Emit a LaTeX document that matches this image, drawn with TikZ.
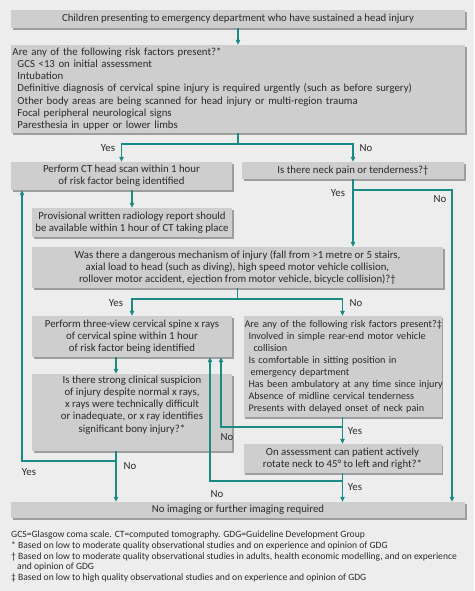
\documentclass[tikz,border=0pt]{standalone}
\usepackage{fontspec}
\setmainfont{Carlito}
\usetikzlibrary{arrows.meta,shadows}
\definecolor{bg}{HTML}{EDEDED}
\definecolor{boxfill}{HTML}{CECECE}
\definecolor{shade}{HTML}{9E9E9E}
\definecolor{tealc}{HTML}{1A8A85}
\definecolor{ink}{HTML}{2A2A2A}
\begin{document}
\begin{tikzpicture}[x=1pt,y=-1pt,
  box/.style={fill=boxfill, draw=none,
    drop shadow={shadow xshift=1.6pt,shadow yshift=-1.6pt,fill=shade,opacity=1},
    inner sep=0pt, text=ink, font=\fontsize{10.8}{12.2}\selectfont, align=center},
  conn/.style={draw=tealc, line width=1.1pt, -{Triangle[length=5pt,width=4.5pt]}},
  tline/.style={draw=tealc, line width=1.1pt},
  lab/.style={text=ink, font=\fontsize{10.8}{12}\selectfont, inner sep=0pt}]
\useasboundingbox (0,0) rectangle (474,591);
\fill[bg] (0,0) rectangle (474,591);

% boxes
\node[box, minimum width=454, minimum height=18] (start) at (238,19)
  {Children presenting to emergency department who have sustained a head injury};
\node[box, minimum width=454, minimum height=88, text width=451, align=left] (risk1) at (238,89)
  {\mbox{Are any of the following risk factors present?*}\\
   \mbox{\hspace*{5pt}GCS <13 on initial assessment}\\
   \mbox{\hspace*{5pt}Intubation}\\
   \mbox{\hspace*{5pt}Definitive diagnosis of cervical spine injury is required urgently (such as before surgery)}\\
   \mbox{\hspace*{5pt}Other body areas are being scanned for head injury or multi-region trauma}\\
   \mbox{\hspace*{5pt}Focal peripheral neurological signs}\\
   \mbox{\hspace*{5pt}Paresthesia in upper or lower limbs}};
\node[box, minimum width=221, minimum height=28] (ct) at (121.5,176)
  {Perform CT head scan within 1 hour\\of risk factor being identified};
\node[box, minimum width=222, minimum height=17] (neck) at (353,170.5)
  {Is there neck pain or tenderness?\textdagger};
\node[box, minimum width=200, minimum height=29] (prov) at (132,222.5)
  {Provisional written radiology report should\\be available within 1 hour of CT taking place};
\node[box, minimum width=411, minimum height=41] (dang) at (237.5,267.5)
  {Was there a dangerous mechanism of injury (fall from >1 metre or 5 stairs,\\
   axial load to head (such as diving), high speed motor vehicle collision,\\
   rollover motor accident, ejection from motor vehicle, bicycle collision)?\textdagger};
\node[box, minimum width=200, minimum height=41] (three) at (132,336.5)
  {Perform three-view cervical spine x rays\\of cervical spine within 1 hour\\of risk factor being identified};
\node[box, minimum width=198, minimum height=101, text width=196, align=left,
  font=\fontsize{10.2}{12}\selectfont] (risk2) at (342.5,366.5)
  {\mbox{Are any of the following risk factors present?\textdaggerdbl}\\
   \mbox{\hspace*{4pt}Involved in simple rear-end motor vehicle}\\
   \mbox{\hspace*{9pt}collision}\\
   \mbox{\hspace*{4pt}Is comfortable in sitting position in}\\
   \mbox{\hspace*{6pt}emergency department}\\
   \mbox{\hspace*{4pt}Has been ambulatory at any time since injury}\\
   \mbox{\hspace*{4pt}Absence of midline cervical tenderness}\\
   \mbox{\hspace*{4pt}Presents with delayed onset of neck pain}};
\node[box, minimum width=200, minimum height=77] (susp) at (132,412.5)
  {Is there strong clinical suspicion\\of injury despite normal x rays,\\x rays were technically difficult\\or inadequate, or x ray identifies\\significant bony injury?*\\[5pt]};
\node[box, minimum width=198, minimum height=29] (rot) at (342.5,458.5)
  {On assessment can patient actively\\rotate neck to 45° to left and right?*};
\node[box, minimum width=454, minimum height=16] (final) at (238,510)
  {No imaging or further imaging required};

% connectors
\draw[conn] (start) -- (risk1);
\coordinate (b1) at (238,144);
\draw[tline] (risk1.south) -- (b1);
\draw[conn] (b1) -| (ct.north);
\draw[conn] (b1) -| (neck.north);
\draw[conn] (ct.south -| prov.north) -- (prov.north);
\draw[conn] (neck.south) -- (neck.south |- dang.north);
\coordinate (b2) at (353,190);
\draw[conn] (b2) -| ([xshift=214pt]final.north);
\coordinate (b3) at (237.5,299);
\draw[tline] (dang.south) -- (b3);
\draw[conn] (b3) -| (three.north);
\draw[conn] (b3) -| (risk2.north);
\draw[conn] ([xshift=-16pt]three.south) -- ([xshift=-16pt]susp.north);
\draw[conn] ([xshift=-16pt]susp.south) -- ([xshift=-122pt]final.north);
\coordinate (b4) at (116,461);
\coordinate (b4l) at (22,461);
\draw[conn] (b4) -- (b4l) -- (b4l |- ct.south);
\draw[conn] (risk2.south) -- (rot.north);
\draw[conn] (rot.south) -- (rot.south |- final.north);
\coordinate (b5) at (342.5,427);
\draw[conn] (b5) -| ([xshift=89pt]three.south);
\coordinate (b6) at (342.5,481);
\draw[conn] (b6) -| ([xshift=78pt]three.south);

% labels
\node[lab] (l1) at (108,148) {Yes};
\node[lab] (l2) at (366,148) {No};
\node[lab] (l3) at (338,193) {Yes};
\node[lab] (l4) at (440,199) {No};
\node[lab] (l5) at (116,303) {Yes};
\node[lab] (l6) at (356,303) {No};
\node[lab] (l7) at (130,466) {No};
\node[lab] (l8) at (29,472) {Yes};
\node[lab] (l9) at (227,437) {No};
\node[lab] (l10) at (217,494) {No};
\node[lab] (l11) at (355,431) {Yes};
\node[lab] (l12) at (355,487) {Yes};

% footnotes
\node[anchor=north west, align=left, text=ink, inner sep=0pt,
  font=\fontsize{9.6}{10.6}\selectfont] (notes) at (11,531)
  {GCS=Glasgow coma scale. CT=computed tomography. GDG=Guideline Development Group\\
   * Based on low to moderate quality observational studies and on experience and opinion of GDG\\
   \textdagger\ Based on low to moderate quality observational studies in adults, health economic modelling, and on experience\\
   \hspace*{6pt}and opinion of GDG\\
   \textdaggerdbl\ Based on low to high quality observational studies and on experience and opinion of GDG};
\end{tikzpicture}
\end{document}
